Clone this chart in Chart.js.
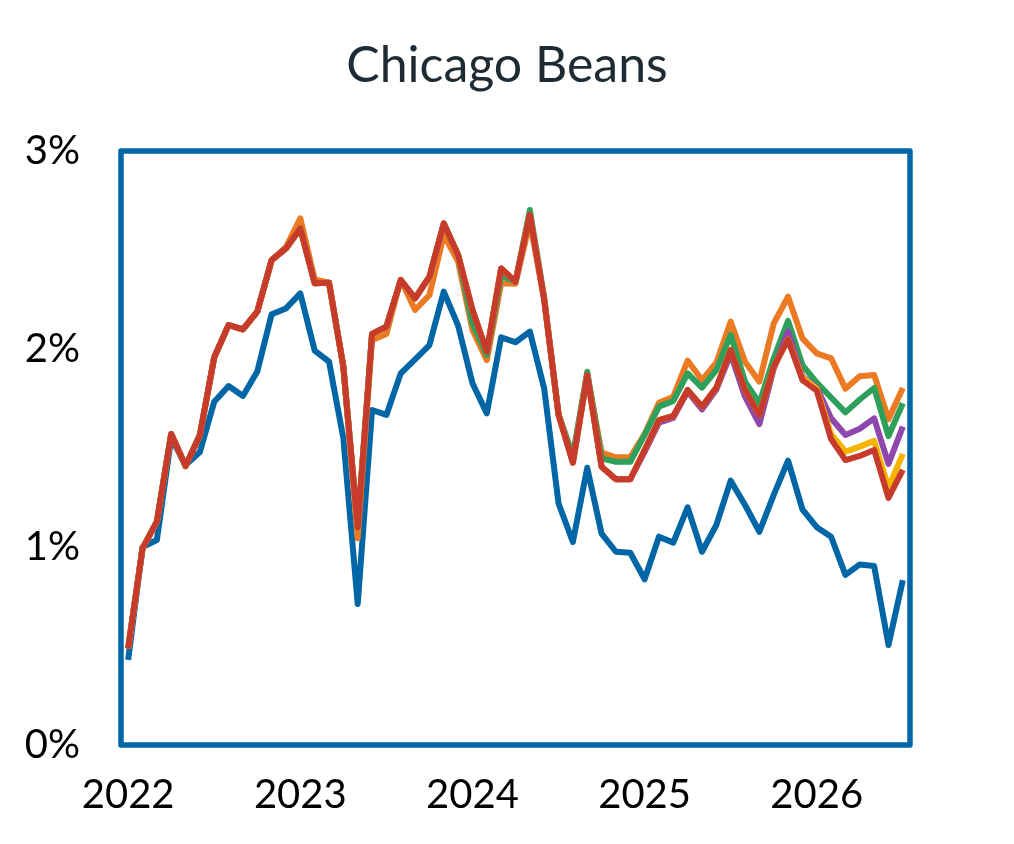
<!DOCTYPE html>
<html>
<head>
<meta charset="utf-8">
<script src="https://cdn.jsdelivr.net/npm/chart.js@4"></script>
<style>
  body { margin: 0; background: #fff; }
  #wrap { width: 1014px; height: 844px; }
</style>
</head>
<body>
<div id="wrap"><canvas id="beansChart"></canvas></div>
<script>
// monthly points, Jan 2022 .. Jul 2026
const years = ['2022', '2023', '2024', '2025', '2026'];
const months = [];
years.forEach(y => {
    for (let m = 1; m <= 12; m++) months.push(y + '-' + String(m).padStart(2, '0'));
});
months.length = 55;

const yTicks = [0, 1, 2, 3];

const blueSeries = [0.43, 1.00, 1.035, 1.55, 1.414, 1.48, 1.734, 1.813, 1.763, 1.886, 2.175, 2.205,
    2.281, 1.992, 1.936, 1.549, 0.712, 1.692, 1.667, 1.877, 1.948, 2.02, 2.29, 2.118,
    1.827, 1.675, 2.059, 2.034, 2.088, 1.80, 1.22, 1.025, 1.40, 1.068, 0.976, 0.971,
    0.837, 1.052, 1.022, 1.20, 0.976, 1.111, 1.335, 1.212, 1.077, 1.263, 1.436, 1.19,
    1.10, 1.052, 0.859, 0.912, 0.904, 0.505, 0.833];

const redSeries = [0.488, 0.993, 1.128, 1.571, 1.409, 1.566, 1.958, 2.121, 2.099, 2.189, 2.449, 2.508,
    2.609, 2.332, 2.335, 1.91, 1.10, 2.076, 2.113, 2.348, 2.256, 2.365, 2.634, 2.475,
    2.197, 1.986, 2.407, 2.34, 2.677, 2.25, 1.668, 1.426, 1.868, 1.405, 1.342, 1.342,
    1.49, 1.641, 1.662, 1.793, 1.709, 1.805, 1.995, 1.793, 1.667, 1.91, 2.047, 1.843,
    1.79, 1.545, 1.439, 1.46, 1.49, 1.248, 1.389];

const orangeSeries = [0.488, 0.993, 1.128, 1.571, 1.409, 1.566, 1.958, 2.121, 2.099, 2.189, 2.449, 2.515,
    2.66, 2.352, 2.335, 1.91, 1.044, 2.045, 2.076, 2.35, 2.197, 2.273, 2.576, 2.441,
    2.096, 1.944, 2.332, 2.33, 2.64, 2.25, 1.668, 1.46, 1.87, 1.477, 1.453, 1.453,
    1.57, 1.728, 1.759, 1.941, 1.843, 1.931, 2.138, 1.936, 1.835, 2.129, 2.264, 2.054,
    1.978, 1.953, 1.80, 1.862, 1.869, 1.645, 1.803];

const greenSeries = [0.488, 0.993, 1.128, 1.571, 1.409, 1.566, 1.958, 2.121, 2.099, 2.189, 2.449, 2.508,
    2.609, 2.332, 2.335, 1.91, 1.10, 2.076, 2.113, 2.348, 2.256, 2.365, 2.634, 2.475,
    2.13, 1.97, 2.37, 2.34, 2.702, 2.26, 1.668, 1.46, 1.885, 1.448, 1.43, 1.43,
    1.566, 1.709, 1.738, 1.877, 1.805, 1.894, 2.071, 1.835, 1.726, 1.953, 2.142, 1.919,
    1.83, 1.755, 1.68, 1.745, 1.803, 1.56, 1.726];

const purpleSeries = [0.488, 0.993, 1.128, 1.571, 1.409, 1.566, 1.958, 2.121, 2.099, 2.189, 2.449, 2.508,
    2.609, 2.332, 2.335, 1.91, 1.10, 2.076, 2.113, 2.348, 2.256, 2.365, 2.634, 2.475,
    2.197, 1.986, 2.407, 2.34, 2.677, 2.25, 1.668, 1.426, 1.868, 1.405, 1.342, 1.342,
    1.48, 1.628, 1.652, 1.785, 1.695, 1.795, 1.975, 1.759, 1.621, 1.90, 2.088, 1.86,
    1.805, 1.65, 1.566, 1.597, 1.65, 1.42, 1.608];

const yellowSeries = [0.488, 0.993, 1.128, 1.571, 1.409, 1.566, 1.958, 2.121, 2.099, 2.189, 2.449, 2.508,
    2.609, 2.332, 2.335, 1.91, 1.10, 2.076, 2.113, 2.348, 2.256, 2.365, 2.634, 2.475,
    2.197, 1.986, 2.407, 2.34, 2.677, 2.25, 1.668, 1.426, 1.868, 1.405, 1.342, 1.342,
    1.49, 1.641, 1.662, 1.793, 1.709, 1.805, 1.995, 1.793, 1.667, 1.91, 2.049, 1.855,
    1.80, 1.57, 1.481, 1.507, 1.536, 1.30, 1.47];

const frameColor = '#0066a6';

function line(data, color, order) {
    return {
        data: data,
        borderColor: color,
        borderWidth: 6,
        pointRadius: 0,
        tension: 0,
        borderJoinStyle: 'round',
        fill: false,
        order: order
    };
}

// box round the plot area
const framePlugin = {
    id: 'frame',
    beforeDatasetsDraw(chart) {
        const { ctx, chartArea } = chart;
        ctx.save();
        ctx.strokeStyle = frameColor;
        ctx.lineWidth = 5.5;
        ctx.lineJoin = 'round';
        ctx.strokeRect(chartArea.left, chartArea.top, chartArea.right - chartArea.left, chartArea.bottom - chartArea.top);
        ctx.restore();
    }
};

const ctx = document.getElementById('beansChart').getContext('2d');
new Chart(ctx, {
    type: 'line',
    data: {
        labels: months,
        datasets: [
            line(blueSeries, '#0066a6', 6),
            line(orangeSeries, '#ec7a23', 5),
            line(greenSeries, '#2ea05b', 4),
            line(purpleSeries, '#8e47ad', 3),
            line(yellowSeries, '#f4b400', 2),
            line(redSeries, '#c63b2b', 1)
        ]
    },
    options: {
        responsive: true,
        maintainAspectRatio: false,
        animation: false,
        layout: { padding: 0 },
        plugins: {
            legend: { display: false },
            tooltip: { enabled: false },
            title: {
                display: true,
                text: 'Chicago Beans',
                color: '#1e2b33',
                font: { family: 'Lato', size: 50, weight: 'normal', lineHeight: 1.2 },
                padding: { top: 36, bottom: 55 }
            }
        },
        scales: {
            x: {
                offset: true,
                grid: { display: false },
                border: { display: false },
                afterFit: scale => { scale.height = 99; },
                ticks: {
                    autoSkip: false,
                    maxRotation: 0,
                    padding: 18,
                    color: '#000',
                    font: { family: 'Lato', size: 40 },
                    callback: function (value, index) {
                        const label = this.getLabelForValue(value);
                        return label.endsWith('-01') ? label.slice(0, 4) : null;
                    }
                }
            },
            y: {
                min: 0,
                max: 3,
                grid: { display: false },
                border: { display: false },
                afterFit: scale => { scale.width = 121; },
                afterBuildTicks: scale => { scale.ticks = yTicks.map(v => ({ value: v })); },
                ticks: {
                    padding: 33,
                    color: '#000',
                    font: { family: 'Lato', size: 40 },
                    callback: value => value + '%'
                }
            },
            // empty right-hand strip so the title centres on the whole canvas
            yRight: {
                position: 'right',
                display: true,
                grid: { display: false },
                border: { display: false },
                ticks: { display: false },
                afterFit: scale => { scale.width = 104; }
            }
        }
    },
    plugins: [framePlugin]
});
</script>
</body>
</html>
